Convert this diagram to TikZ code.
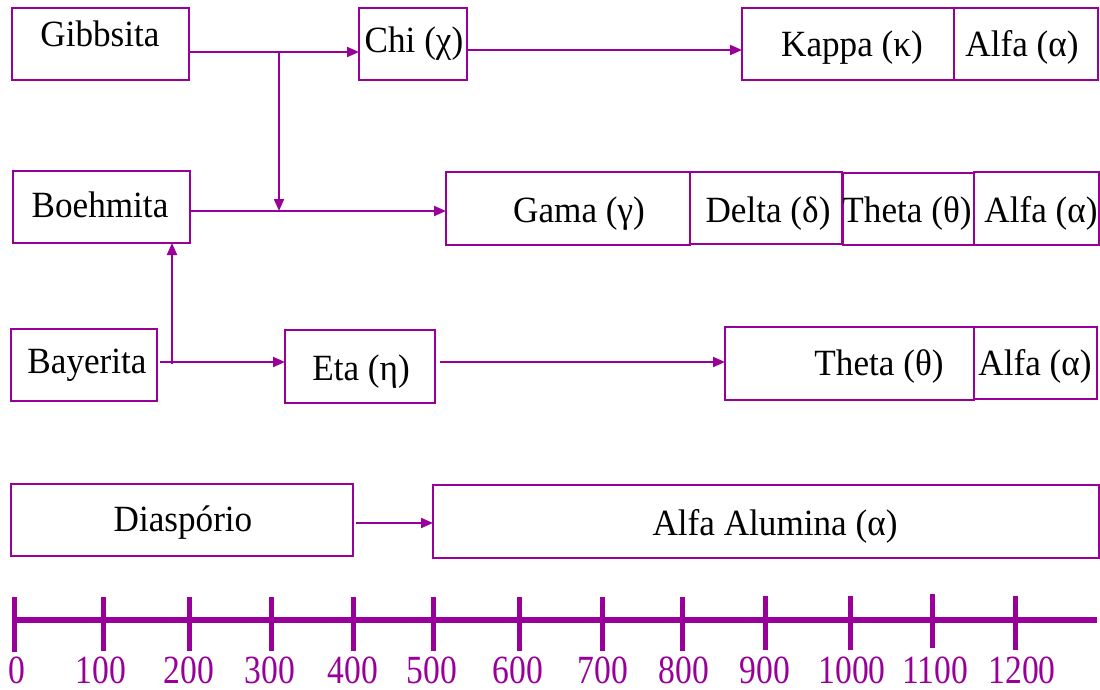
\documentclass[tikz,border=0pt]{standalone}
\usepackage{fontspec}
\usepackage{graphicx}
\setmainfont{Liberation Serif}
\usetikzlibrary{arrows.meta}
\definecolor{pur}{RGB}{153,0,153}
\newcommand{\bt}[1]{\scalebox{0.95}[1]{#1}}
\newcommand{\at}[1]{\scalebox{0.84}[1]{#1}}
\tikzset{
  box/.style={draw=pur, line width=2pt, inner sep=0pt, outer sep=0pt, rectangle},
  txt/.style={anchor=base, inner sep=0pt, font=\fontsize{37}{40}\selectfont, text=black},
  axlbl/.style={anchor=base, inner sep=0pt, font=\fontsize{40}{42}\selectfont, text=pur},
  conn/.style={draw=pur, line width=2pt},
  arr/.style={conn, -{Triangle[length=12pt,width=10pt]}},
  tick/.style={draw=pur, line width=5pt},
  axisline/.style={draw=pur, line width=6pt}
}
\newcommand{\bx}[5]{\node[box, minimum width={(#4-#2)*1pt}, minimum height={(#5-#3)*1pt}] (#1) at ({(#2+#4)/2},{(#3+#5)/2}) {};}
\begin{document}
\begin{tikzpicture}[x=1pt,y=-1pt]
\useasboundingbox (0,0) rectangle (1100,690);
% boxes
\bx{gib}{12}{8}{189}{80}
\bx{chi}{359}{8}{467}{80}
\bx{kap}{742}{8}{954}{80}
\bx{al1}{954}{8}{1098}{80}
\bx{boe}{13}{171}{190}{243}
\bx{gam}{446}{172}{690}{245}
\bx{del}{690}{172}{842}{244}
\bx{th2}{843}{173}{974}{245}
\bx{al2}{974}{172}{1099}{245}
\bx{bay}{11}{329}{157}{401}
\bx{eta}{285}{330}{435}{403}
\bx{th3}{725}{327}{974}{400}
\bx{al3}{974}{327}{1097}{399}
\bx{dia}{11}{484}{353}{556}
\bx{alu}{433}{485}{1099}{558}
% texts
\node[txt] (tgib) at (100,47) {\bt{Gibbsita}};
\node[txt] (tchi) at (414,53) {\bt{Chi (χ)}};
\node[txt] (tkap) at (852,57) {\bt{Kappa (κ)}};
\node[txt] (tal1) at (1022,57) {\bt{Alfa (α)}};
\node[txt] (tboe) at (100,217) {\bt{Boehmita}};
\node[txt] (tgam) at (579,222) {\bt{Gama (γ)}};
\node[txt] (tdel) at (768,222) {\bt{Delta (δ)}};
\node[txt] (tth2) at (907,222) {\bt{Theta (θ)}};
\node[txt] (tal2) at (1041,222) {\bt{Alfa (α)}};
\node[txt] (tbay) at (87,373) {\bt{Bayerita}};
\node[txt] (teta) at (361,380) {\bt{Eta (η)}};
\node[txt] (tth3) at (879,375) {\bt{Theta (θ)}};
\node[txt] (tal3) at (1035,375) {\bt{Alfa (α)}};
\node[txt] (tdia) at (183,531) {\bt{Diaspório}};
\node[txt] (talu) at (775,535) {\bt{Alfa Alumina (α)}};
% connectors
\coordinate (j1) at (279,52);
\coordinate (j2) at (279,211);
\coordinate (k1) at (467,50);
\coordinate (b1) at (172,364);
\coordinate (b2) at (160,362);
\coordinate (e1) at (440,362);
\coordinate (d1) at (356,523);
\draw[arr] (gib.east |- j1) -- (chi.west |- j1);
\draw[arr] (j1) -- (j2);
\draw[arr] (boe.east |- j2) -- (gam.west |- j2);
\draw[arr] (k1) -- (kap.west |- k1);
\draw[arr] (b1) -- (boe.south -| b1);
\draw[arr] (b2) -- (eta.west |- b2);
\draw[arr] (e1) -- (th3.west |- e1);
\draw[arr] (d1) -- (alu.west |- d1);
% axis
\coordinate (a0) at (12,620);
\coordinate (a1) at (1097,620);
\draw[axisline] (a0) -- (a1);
\foreach \x/\ya/\yb in {14/597/652,103/597/651,189/597/651,271/597/651,353/597/651,433/597/651,519/597/651,602/597/651,682/597/651,765/596/650,850/596/650,932/594/648,1015/596/650}{
  \draw[tick] (\x,\ya) -- (\x,\yb);
}
\foreach \x/\t in {17/0,101/100,189/200,270/300,353/400,432/500,518/600,603/700,684/800,765/900,852/1000,935/1100,1022/1200}{
  \node[axlbl] (lab\t) at (\x,683) {\at{\t}};
}
\end{tikzpicture}
\end{document}
